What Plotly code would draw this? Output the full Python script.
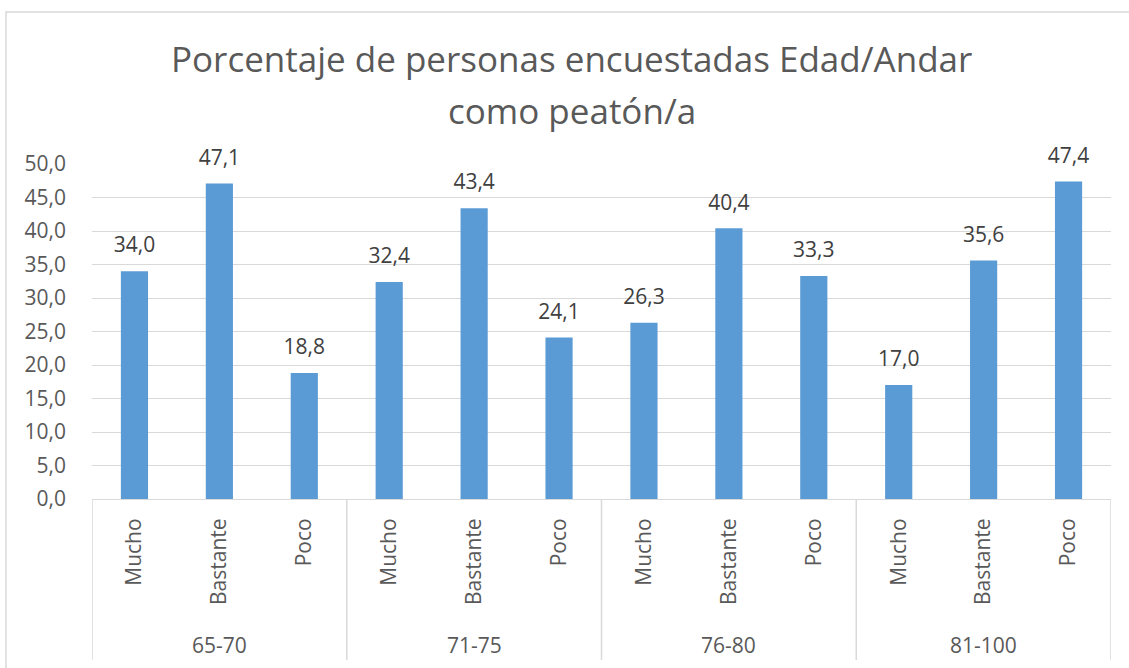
import plotly.graph_objects as go

groups = ["65-70", "71-75", "76-80", "81-100"]
levels = ["Mucho", "Bastante", "Poco"]
values = [34.0, 47.1, 18.8, 32.4, 43.4, 24.1, 26.3, 40.4, 33.3, 17.0, 35.6, 47.4]
title_line1 = "Porcentaje de personas encuestadas Edad/Andar"
title_line2 = "como peatón/a"

FONT = "Open Sans, Noto Sans, sans-serif"
TXT = "#595959"
GRID = "#d9d9d9"

n_lev = len(levels)
xpos = list(range(len(values)))
tick_text = [levels[i % n_lev] for i in xpos]

fig = go.Figure()
fig.add_trace(go.Bar(
    x=xpos, y=values,
    marker=dict(color="#5b9bd5", line=dict(width=0)),
    customdata=[[groups[i // n_lev], tick_text[i]] for i in xpos],
    hovertemplate="%{customdata[0]} %{customdata[1]}: %{y:.1f}<extra></extra>",
))
fig.add_trace(go.Scatter(
    x=xpos, y=values, mode="markers+text",
    marker=dict(size=20, color="rgba(0,0,0,0)"),
    texttemplate="%{y:.1f}", textposition="top center", cliponaxis=False,
    textfont=dict(family=FONT, size=21, color="#404040"),
    hoverinfo="skip",
))

fig.update_layout(
    width=1129, height=668,
    margin=dict(l=92, r=18, t=164, b=169, autoexpand=False),
    paper_bgcolor="white", plot_bgcolor="white",
    separators=",.",
    bargap=0.68,
    showlegend=False,
    font=dict(family=FONT, color=TXT),
)
fig.add_annotation(text=title_line1, xref="paper", yref="paper", x=0.471, y=1.315,
                   xanchor="center", yanchor="middle", showarrow=False,
                   font=dict(family=FONT, size=35, color=TXT))
fig.add_annotation(text=title_line2, xref="paper", yref="paper", x=0.471, y=1.161,
                   xanchor="center", yanchor="middle", showarrow=False,
                   font=dict(family=FONT, size=35, color=TXT))
fig.update_yaxes(range=[0, 50], dtick=5, tickformat=".1f", showgrid=True,
                 gridcolor=GRID, gridwidth=1, zeroline=False, showline=False,
                 ticks="", tickfont=dict(family=FONT, size=21, color=TXT),
                 ticklabelstandoff=25, automargin=False)
fig.update_xaxes(range=[-0.5, len(values) - 0.5], tickmode="array", tickvals=xpos,
                 ticktext=tick_text, tickangle=-90, showline=True, linecolor=GRID,
                 linewidth=1, ticks="", showgrid=False, zeroline=False,
                 tickfont=dict(family=FONT, size=21, color=TXT),
                 ticklabelstandoff=10, automargin=False)
for g, name in enumerate(groups):
    fig.add_annotation(text=name, xref="x", yref="paper", x=g * n_lev + (n_lev - 1) / 2,
                       y=-0.4358, xanchor="center", yanchor="middle", showarrow=False,
                       font=dict(family=FONT, size=21, color=TXT))
for g in range(len(groups) + 1):
    edge = g * n_lev - 0.5
    fig.add_shape(type="line", xref="x", yref="paper", x0=edge, x1=edge,
                  y0=0, y1=-0.4806, line=dict(color=GRID, width=1.5))
fig.add_shape(type="rect", xref="paper", yref="paper", x0=-0.0844, x1=1.05,
              y0=-0.7, y1=1.4537, line=dict(color=GRID, width=1.5), layer="below")

fig.write_html("out.html", post_script="document.body.style.margin='0';",
               config={"displayModeBar": False})
